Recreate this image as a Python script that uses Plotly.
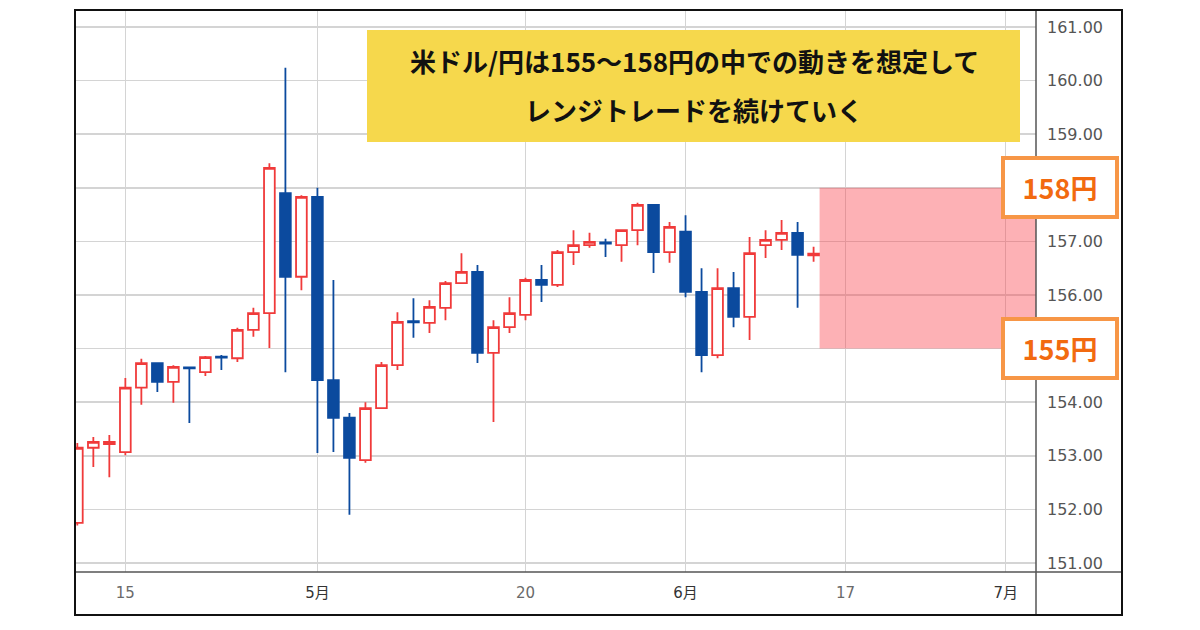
import plotly.graph_objects as go

dates = ["2024-04-10", "2024-04-11", "2024-04-12", "2024-04-15", "2024-04-16", "2024-04-17",
         "2024-04-18", "2024-04-19", "2024-04-22", "2024-04-23", "2024-04-24", "2024-04-25",
         "2024-04-26", "2024-04-29", "2024-04-30", "2024-05-01", "2024-05-02", "2024-05-03",
         "2024-05-06", "2024-05-07", "2024-05-08", "2024-05-09", "2024-05-10", "2024-05-13",
         "2024-05-14", "2024-05-15", "2024-05-16", "2024-05-17", "2024-05-20", "2024-05-21",
         "2024-05-22", "2024-05-23", "2024-05-24", "2024-05-27", "2024-05-28", "2024-05-29",
         "2024-05-30", "2024-05-31", "2024-06-03", "2024-06-04", "2024-06-05", "2024-06-06",
         "2024-06-07", "2024-06-10", "2024-06-11", "2024-06-12", "2024-06-13"]
opens = [151.75, 153.15, 153.22, 153.07, 154.27, 154.73, 154.38, 154.65, 154.56, 154.85, 154.82, 155.35,
         155.66, 157.90, 156.34, 157.83, 154.41, 153.71, 152.92, 153.89, 154.69, 155.51, 155.48, 155.76,
         156.22, 156.43, 154.92, 155.40, 155.63, 156.28, 156.19, 156.80, 156.93, 156.98, 156.93, 157.21,
         157.68, 156.80, 157.18, 156.06, 154.88, 156.13, 155.59, 156.93, 157.03, 157.16, 156.74]
highs = [153.24, 153.35, 153.39, 154.45, 154.81, 154.74, 154.69, 154.66, 154.86, 154.88, 155.39, 155.76,
         158.46, 160.24, 157.86, 158.00, 156.28, 153.80, 154.00, 154.75, 155.68, 155.94, 155.90, 156.26,
         156.78, 156.56, 155.53, 155.96, 156.32, 156.56, 156.84, 157.21, 157.16, 157.05, 157.22, 157.72,
         157.69, 157.36, 157.49, 156.50, 156.50, 156.43, 157.08, 157.21, 157.40, 157.36, 156.90]
lows = [151.70, 152.79, 152.60, 153.01, 153.95, 154.19, 153.99, 153.61, 154.49, 154.60, 154.75, 155.22,
        155.01, 154.56, 156.09, 153.05, 153.07, 151.90, 152.87, 153.88, 154.60, 155.20, 155.29, 155.53,
        156.21, 154.73, 153.63, 155.29, 155.53, 155.87, 156.15, 156.56, 156.88, 156.71, 156.62, 156.93,
        156.41, 156.60, 155.96, 154.56, 154.82, 155.40, 155.16, 156.69, 156.84, 155.76, 156.62]
closes = [153.15, 153.26, 153.26, 154.27, 154.73, 154.38, 154.66, 154.63, 154.84, 154.83, 155.35, 155.66,
          158.37, 156.34, 157.83, 154.41, 153.71, 152.96, 153.89, 154.69, 155.50, 155.49, 155.78, 156.22,
          156.43, 154.92, 155.40, 155.66, 156.28, 156.19, 156.80, 156.93, 156.99, 156.96, 157.21, 157.68,
          156.80, 157.27, 156.06, 154.88, 156.13, 155.59, 156.78, 157.03, 157.16, 156.75, 156.77]

tick_dates = ["2024-04-15", "2024-05-01", "2024-05-20", "2024-06-03", "2024-06-17", "2024-07-01"]
tick_labels = ["15", "5月", "20", "6月", "17", "7月"]
tick_is_month = [False, True, False, True, False, True]

price_ticks = [151, 152, 153, 154, 155, 156, 157, 158, 159, 160, 161]
range_low, range_high = 155, 158
range_labels = ["158円", "155円"]
zone_start = "2024-06-13 09:00"
x_range = ["2024-04-09 22:00", "2024-07-02 21:30"]
y_range = [150.832, 161.317]

title_lines = ["米ドル/円は155〜158円の中での動きを想定して", "レンジトレードを続けていく"]

W, H = 1200, 630
L, R, T, B = 76, 1036, 10, 572


def px(xp):
    return (xp - L) / (R - L)


def py(yp):
    return (B - yp) / (B - T)


fig = go.Figure()
fig.add_trace(go.Candlestick(
    x=dates, open=opens, high=highs, low=lows, close=closes,
    increasing=dict(line=dict(color="#F03A3A", width=1.8), fillcolor="#FFFFFF"),
    decreasing=dict(line=dict(color="#0B4A9E", width=1.8), fillcolor="#0B4A9E"),
    whiskerwidth=0, showlegend=False, hoverinfo="skip",
))

ticktext = [f"<span style='color:#333333'>{t}</span>" if m else t
            for t, m in zip(tick_labels, tick_is_month)]
# labels at the range levels are covered by the range boxes
price_text = ["" if v in (range_low, range_high) else f"{v:.2f}" for v in price_ticks]

fig.update_layout(
    width=W, height=H,
    margin=dict(l=L, r=W - R, t=T, b=H - B),
    paper_bgcolor="white", plot_bgcolor="white",
    boxgap=0.33, boxgroupgap=0,
    showlegend=False,
    xaxis=dict(
        type="date",
        range=x_range,
        rangebreaks=[dict(bounds=["sat", "mon"])],
        rangeslider=dict(visible=False),
        tickmode="array", tickvals=tick_dates, ticktext=ticktext,
        showgrid=True, gridcolor="#D4D4D4", gridwidth=1.5,
        ticks="", showline=False, zeroline=False,
        tickfont=dict(family="DejaVu Sans, Noto Sans CJK JP", size=15, color="#6A6A6A"),
        ticklabelstandoff=10,
        fixedrange=True,
    ),
    yaxis=dict(
        side="right",
        range=y_range,
        tickmode="array", tickvals=price_ticks, ticktext=price_text,
        showgrid=True, gridcolor="#D4D4D4", gridwidth=1.5,
        ticks="", showline=False, zeroline=False,
        tickfont=dict(family="DejaVu Sans", size=16, color="#555555"),
        ticklabelstandoff=10,
        fixedrange=True,
    ),
)

shapes = []
shapes.append(dict(type="rect", xref="x", yref="y", x0=zone_start, x1=x_range[1],
                   y0=range_low, y1=range_high, fillcolor="rgba(250,60,70,0.40)",
                   line=dict(width=0), layer="above"))
shapes.append(dict(type="rect", xref="paper", yref="paper", x0=px(367), x1=px(1020),
                   y0=py(142), y1=py(30), fillcolor="#F6D84C", line=dict(width=0), layer="above"))
shapes.append(dict(type="line", xref="paper", yref="paper", x0=px(R), x1=px(R),
                   y0=py(615), y1=py(10), line=dict(color="#555555", width=1.5)))
shapes.append(dict(type="line", xref="paper", yref="paper", x0=px(75), x1=px(1122),
                   y0=py(B), y1=py(B), line=dict(color="#555555", width=1.5)))
shapes.append(dict(type="rect", xref="paper", yref="paper", x0=px(75), x1=px(1122),
                   y0=py(615), y1=py(10), line=dict(color="#111111", width=2),
                   fillcolor="rgba(0,0,0,0)"))
fig.update_layout(shapes=shapes)

annotations = []
for i, line in enumerate(title_lines):
    annotations.append(dict(xref="paper", yref="paper", x=px(694), y=py(60 + 50 * i),
                            text=f"<b>{line}</b>", showarrow=False,
                            font=dict(family="Noto Sans CJK JP", size=26, color="#111111"),
                            xanchor="center", yanchor="middle"))
for val, lab in zip([range_high, range_low], range_labels):
    annotations.append(dict(xref="paper", yref="y", x=px(1060), y=val,
                            text=f"<b>{lab}</b>", showarrow=False,
                            font=dict(family="Noto Sans CJK JP", size=27, color="#F26A10"),
                            bgcolor="white", bordercolor="#F79646", borderwidth=4, borderpad=2,
                            width=106, height=51, xanchor="center", yanchor="middle"))
fig.update_layout(annotations=annotations)

fig.write_html("out.html", config={"displayModeBar": False, "staticPlot": True},
               post_script="document.body.style.margin='0px';")
